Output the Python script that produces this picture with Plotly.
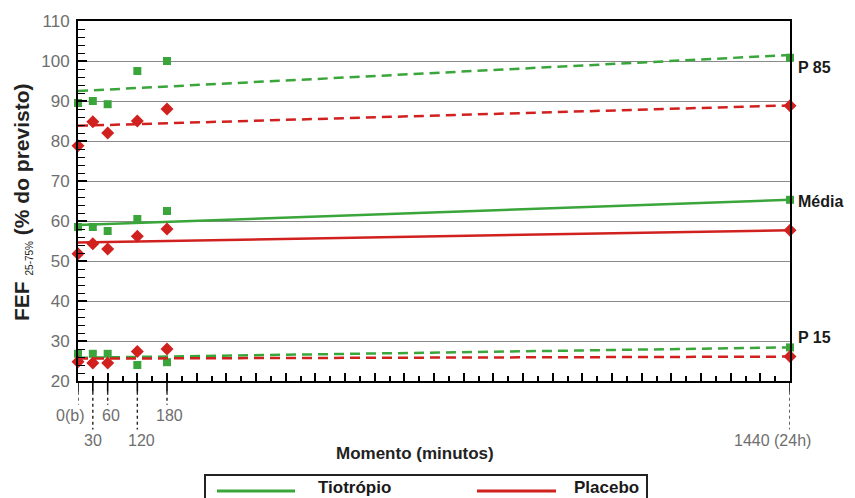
import plotly.graph_objects as go

# Measurement times (minutes) and their printed labels
times = [0, 30, 60, 120, 180, 1440]
time_labels = ["0(b)", "30", "60", "120", "180", "1440 (24h)"]
label_row = [0, 1, 0, 1, 0, 1]          # staggered label rows
label_xshift = [-8, 0, 3, 4, 2, -18]

# FEF 25-75% (% of predicted) - Tiotrópio
tio_p85 = [89.5, 90.0, 89.2, 97.5, 100.0, 100.8]
tio_mean = [58.5, 58.5, 57.5, 60.5, 62.5, 65.3]
tio_p15 = [26.8, 26.8, 26.8, 24.0, 24.7, 28.4]

# FEF 25-75% (% of predicted) - Placebo
pla_p85 = [78.8, 84.8, 82.0, 85.0, 88.0, 88.8]
pla_mean = [51.8, 54.3, 53.0, 56.2, 58.0, 57.7]
pla_p15 = [24.8, 24.5, 24.5, 27.4, 28.0, 26.1]

# Trend lines: values at first (0 min) and last (1440 min) time
trend_x = [times[0], times[-1]]
tio_p85_trend = [92.5, 101.5]
tio_mean_trend = [59.0, 65.3]
tio_p15_trend = [25.8, 28.4]
pla_p85_trend = [83.8, 88.9]
pla_mean_trend = [54.6, 57.7]
pla_p15_trend = [25.6, 26.1]

GREEN = "#3aa53a"
RED = "#d0211f"
FONT = "Liberation Sans, Arial, sans-serif"
TICK_GRAY = "#6e6e6e"
DASH = "10px,6px"

fig = go.Figure()

series = [
    (tio_p85_trend, tio_p85, GREEN, DASH, "square", 8),
    (tio_mean_trend, tio_mean, GREEN, "solid", "square", 8),
    (tio_p15_trend, tio_p15, GREEN, DASH, "square", 8),
    (pla_p85_trend, pla_p85, RED, DASH, "diamond", 10),
    (pla_mean_trend, pla_mean, RED, "solid", "diamond", 10),
    (pla_p15_trend, pla_p15, RED, DASH, "diamond", 10),
]
for trend, pts, color, dash, symbol, size in series:
    fig.add_trace(go.Scatter(
        x=trend_x, y=trend, mode="lines",
        line=dict(color=color, width=2.5, dash=dash),
        showlegend=False, hoverinfo="skip", cliponaxis=False,
    ))
    fig.add_trace(go.Scatter(
        x=times, y=pts, mode="markers",
        marker=dict(color=color, symbol=symbol, size=size, line=dict(width=0)),
        showlegend=False, cliponaxis=False,
    ))

fig.update_xaxes(
    range=[0, 1440], showgrid=False, zeroline=False,
    showline=True, linecolor="black", linewidth=2, mirror=True,
    ticks="inside", tick0=0, dtick=60, ticklen=8, tickwidth=1.5, tickcolor="black",
    minor=dict(ticks="inside", dtick=30, tick0=0, ticklen=5, tickwidth=1.5, tickcolor="black"),
    showticklabels=False,
)
fig.update_yaxes(
    range=[20, 110], zeroline=False,
    showgrid=True, gridcolor="#8a8a8a", gridwidth=1.3,
    showline=True, linecolor="black", linewidth=2, mirror=True,
    ticks="inside", tick0=20, dtick=10, ticklen=9, tickwidth=1.5, tickcolor="black",
    minor=dict(ticks="inside", dtick=2, ticklen=7, tickwidth=1.2, tickcolor="black", showgrid=False),
    tickfont=dict(family=FONT, size=17, color=TICK_GRAY),
    ticklabelstandoff=3,
)

shapes = []
annotations = []

# Drop lines and labels below the time axis
for t, lab, row, dx in zip(times, time_labels, label_row, label_xshift):
    y_end = -0.066 if row == 0 else -0.135
    shapes.append(dict(type="line", xref="x", yref="paper", x0=t, x1=t, y0=0, y1=-0.03,
                       line=dict(color="black", width=1.6)))
    shapes.append(dict(type="line", xref="x", yref="paper", x0=t, x1=t, y0=-0.03, y1=y_end,
                       line=dict(color="#222222", width=1.4, dash="dot")))
    annotations.append(dict(
        x=t, y=0, xref="x", yref="paper", text=lab, showarrow=False,
        xanchor="center", yanchor="middle", xshift=dx,
        yshift=-34 if row == 0 else -59,
        font=dict(family=FONT, size=16, color=TICK_GRAY),
    ))

# Axis titles
annotations.append(dict(
    x=0.5, y=0, xref="paper", yref="paper", xshift=-19, yshift=-72,
    text="<b>Momento (minutos)</b>", showarrow=False,
    xanchor="center", yanchor="middle",
    font=dict(family=FONT, size=17, color="#222222"),
))
annotations.append(dict(
    x=0, y=0.5, xref="paper", yref="paper", xshift=-56, yshift=-1,
    text="<b>FEF</b> <sub><span style='font-size:10px'>25-75%</span></sub> <b>(% do previsto)</b>",
    showarrow=False, textangle=-90, xanchor="center", yanchor="middle",
    font=dict(family=FONT, size=21, color="#222222"),
))

# Percentile / mean labels on the right
for txt, yv in [("P 85", 98.5), ("Média", 65.0), ("P 15", 31.0)]:
    annotations.append(dict(
        x=1, y=yv, xref="paper", yref="y", xshift=6, text=f"<b>{txt}</b>",
        showarrow=False, xanchor="left", yanchor="middle",
        font=dict(family=FONT, size=16, color="#1a1a1a"),
    ))

# Legend box drawn below the axis title
px = lambda v: (v - 78) / 712.0
py = lambda v: (381 - v) / 360.0
shapes.append(dict(type="rect", xref="paper", yref="paper",
                   x0=px(205), x1=px(647), y0=py(502), y1=py(475),
                   line=dict(color="#222222", width=2), fillcolor="white"))
for (x0, x1), color in [((217, 295), GREEN), ((477, 556), RED)]:
    shapes.append(dict(type="line", xref="paper", yref="paper",
                       x0=px(x0), x1=px(x1), y0=py(491), y1=py(491),
                       line=dict(color=color, width=3)))
for txt, xl in [("Tiotrópio", 316), ("Placebo", 572)]:
    annotations.append(dict(
        x=px(xl), y=py(487), xref="paper", yref="paper", text=f"<b>{txt}</b>",
        showarrow=False, xanchor="left", yanchor="middle",
        font=dict(family=FONT, size=17, color="#1a1a1a"),
    ))

fig.update_layout(
    width=855, height=498,
    margin=dict(l=78, r=65, t=21, b=117),
    paper_bgcolor="white", plot_bgcolor="white",
    showlegend=False,
    shapes=shapes, annotations=annotations,
)

fig.write_html("out.html")
